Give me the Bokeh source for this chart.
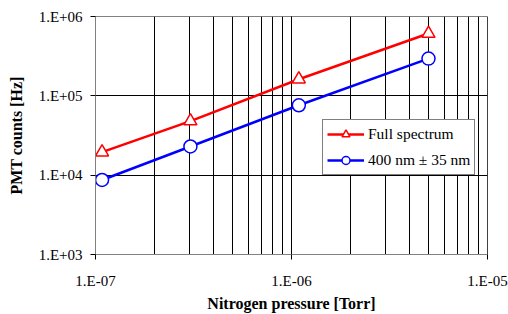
from bokeh.plotting import figure
from bokeh.models import LogTicker, CustomJSTickFormatter, Legend, LegendItem
from bokeh.embed import file_html
from bokeh.resources import INLINE

pressure = [1.08e-7, 3.05e-7, 1.09e-6, 5.0e-6]
full_spectrum = [1.95e4, 4.8e4, 1.62e5, 6.1e5]
filtered_400 = [8.7e3, 2.3e4, 7.6e4, 2.95e5]
labels = ["Full spectrum", "400 nm \u00b1 35 nm"]

FONT = "Liberation Serif"

p = figure(width=508, height=314, x_axis_type="log", y_axis_type="log",
           x_range=(1e-7, 1e-5), y_range=(1e3, 1e6),
           output_backend="svg", toolbar_location=None,
           min_border_left=95, min_border_right=21, min_border_top=16, min_border_bottom=60)

p.outline_line_color = "#808080"
p.background_fill_color = "white"

p.xaxis.ticker = LogTicker(num_minor_ticks=10)
p.yaxis.ticker = LogTicker(num_minor_ticks=0)
fmt_code = """
const e = Math.round(Math.log10(tick));
const s = e < 0 ? '-' : '+';
const a = Math.abs(e);
return '1.E' + s + (a < 10 ? '0' : '') + a;
"""
p.xaxis.formatter = CustomJSTickFormatter(code=fmt_code)
p.yaxis.formatter = CustomJSTickFormatter(code=fmt_code)

for ax in (p.xaxis, p.yaxis):
    ax.axis_line_color = "#808080"
    ax.major_tick_line_color = "#000000"
    ax.major_tick_out = 5
    ax.major_tick_in = 0
    ax.minor_tick_line_color = None
    ax.major_label_text_font = FONT
    ax.major_label_text_font_size = "15px"
    ax.major_label_text_color = "black"
    ax.axis_label_text_font = FONT
    ax.axis_label_text_font_size = "16px"
    ax.axis_label_text_font_style = "bold"
    ax.axis_label_text_color = "black"

p.xaxis.axis_label = "Nitrogen pressure [Torr]"
p.yaxis.axis_label = "PMT counts [Hz]"
p.xaxis.major_label_standoff = 13
p.xaxis.axis_label_standoff = 3
p.yaxis.major_label_standoff = 8
p.yaxis.axis_label_standoff = 11

p.xgrid.grid_line_color = "#000000"
p.xgrid.grid_line_width = 1
p.xgrid.minor_grid_line_color = "#000000"
p.xgrid.minor_grid_line_width = 1
p.ygrid.grid_line_color = "#000000"
p.ygrid.grid_line_width = 1

r1l = p.line(pressure, full_spectrum, line_color="#ff0000", line_width=2.5)
r1m = p.scatter(pressure, full_spectrum, marker="triangle", size=13,
                line_color="#ff0000", fill_color="white", line_width=1.5)
r2l = p.line(pressure, filtered_400, line_color="#0000ff", line_width=2.5)
r2m = p.scatter(pressure, filtered_400, marker="circle", size=13,
                line_color="#0000ff", fill_color="white", line_width=1.5)

legend = Legend(items=[LegendItem(label=labels[0], renderers=[r1l, r1m]),
                       LegendItem(label=labels[1], renderers=[r2l, r2m])],
                location=(227, 79), margin=0, padding=4, spacing=6,
                glyph_width=37, glyph_height=20, label_standoff=4,
                label_text_font=FONT, label_text_font_size="15.5px",
                label_text_color="black",
                border_line_color="black", border_line_width=1,
                background_fill_color="white", background_fill_alpha=1.0)
p.add_layout(legend, "center")

open("out.html", "w").write(file_html(p, INLINE))
